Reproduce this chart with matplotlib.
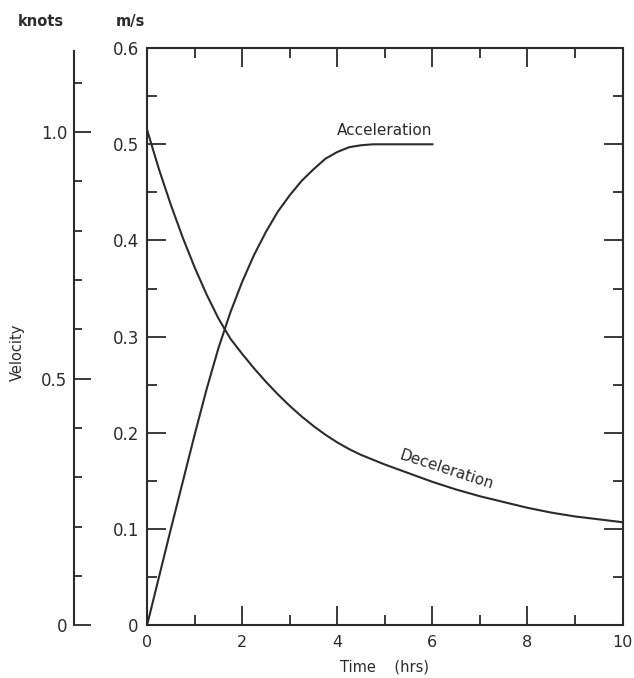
import matplotlib
matplotlib.use('Agg')
import matplotlib.pyplot as plt
from matplotlib.ticker import MultipleLocator

# velocity (m/s) against time (hrs)
accel_t = [0, 0.5, 1.0, 1.25, 1.5, 1.75, 2.0, 2.25, 2.5, 2.75, 3.0, 3.25,
           3.5, 3.75, 4.0, 4.25, 4.5, 4.75, 5.0, 6.0]
accel_v = [0, 0.1, 0.198, 0.245, 0.288, 0.325, 0.357, 0.385, 0.409, 0.43,
           0.447, 0.462, 0.474, 0.485, 0.492, 0.497, 0.499, 0.5, 0.5, 0.5]

decel_t = [0, 0.25, 0.5, 0.75, 1.0, 1.25, 1.5, 1.75, 2.0, 2.25, 2.5, 2.75,
           3.0, 3.25, 3.5, 3.75, 4.0, 4.25, 4.5, 5.0, 5.5, 6.0, 6.5, 7.0,
           7.5, 8.0, 8.5, 9.0, 9.5, 10.0]
decel_v = [0.515, 0.474, 0.437, 0.403, 0.372, 0.344, 0.319, 0.298, 0.282,
           0.267, 0.253, 0.240, 0.228, 0.217, 0.207, 0.198, 0.190, 0.183,
           0.177, 0.167, 0.158, 0.149, 0.141, 0.134, 0.128, 0.122, 0.117,
           0.113, 0.110, 0.107]

x_ticks = [0, 2, 4, 6, 8, 10]
ms_ticks = [0, 0.1, 0.2, 0.3, 0.4, 0.5, 0.6]
knot_ticks = [0, 0.5, 1.0]
MS_PER_KNOT = 0.514444

ink = '#2b2b2b'
plt.rcParams['font.family'] = 'DejaVu Sans'
plt.rcParams['font.size'] = 12

fig = plt.figure(figsize=(6.34, 6.78), dpi=100)
ax = fig.add_axes([0.232, 0.078, 0.750, 0.851])

ax.plot(accel_t, accel_v, color=ink, lw=1.5)
ax.plot(decel_t, decel_v, color=ink, lw=1.5)

ax.set_xlim(0, 10)
ax.set_ylim(0, 0.6)
ax.set_xticks(x_ticks)
ax.set_yticks(ms_ticks)
ax.set_yticklabels(['0' if v == 0 else f'{v:.1f}' for v in ms_ticks])
ax.xaxis.set_minor_locator(MultipleLocator(1))
ax.yaxis.set_minor_locator(MultipleLocator(0.05))
ax.tick_params(which='both', direction='in', top=True, right=True,
               color=ink, labelcolor=ink, width=1.3)
ax.tick_params(which='major', length=14)
ax.tick_params(axis='x', which='major', pad=7, labelsize=11.5)
ax.tick_params(axis='y', which='major', pad=6)
ax.tick_params(which='minor', length=7)
for s in ax.spines.values():
    s.set_color(ink)
    s.set_linewidth(1.5)

ax.text(5.0, 0.507, 'Acceleration', ha='center', va='bottom',
        color=ink, fontsize=11)
ax.text(6.3, 0.161, 'Deceleration', ha='center', va='center',
        rotation=-18, color=ink, fontsize=11)

ax.set_xlabel('Time    (hrs)', color=ink, fontsize=10.5, labelpad=7)

# second scale in knots on the far left
kax = fig.add_axes([0.117, 0.078, 0.01, 0.848])
kax.set_ylim(0, 0.6 / MS_PER_KNOT)
kax.set_xticks([])
kax.set_yticks(knot_ticks)
kax.set_yticklabels(['0', '0.5', '1.0'])
kax.yaxis.set_minor_locator(MultipleLocator(0.1))
kax.tick_params(which='both', direction='in', color=ink, labelcolor=ink,
                width=1.3)
kax.tick_params(which='major', length=12, pad=5)
kax.tick_params(which='minor', length=6)
kax.patch.set_visible(False)
for name in ['top', 'right', 'bottom']:
    kax.spines[name].set_visible(False)
kax.spines['left'].set_color(ink)
kax.spines['left'].set_linewidth(1.5)
kax.spines['left'].set_bounds(0, 1.165)

fig.text(0.065, 0.968, 'knots', ha='center', va='center', color=ink,
         fontsize=10.5, fontweight='bold')
fig.text(0.205, 0.968, 'm/s', ha='center', va='center', color=ink,
         fontsize=10.5, fontweight='bold')
fig.text(0.028, 0.48, 'Velocity', ha='center', va='center', rotation=90,
         color=ink, fontsize=10.5)

fig.savefig('out.png', dpi=100)
